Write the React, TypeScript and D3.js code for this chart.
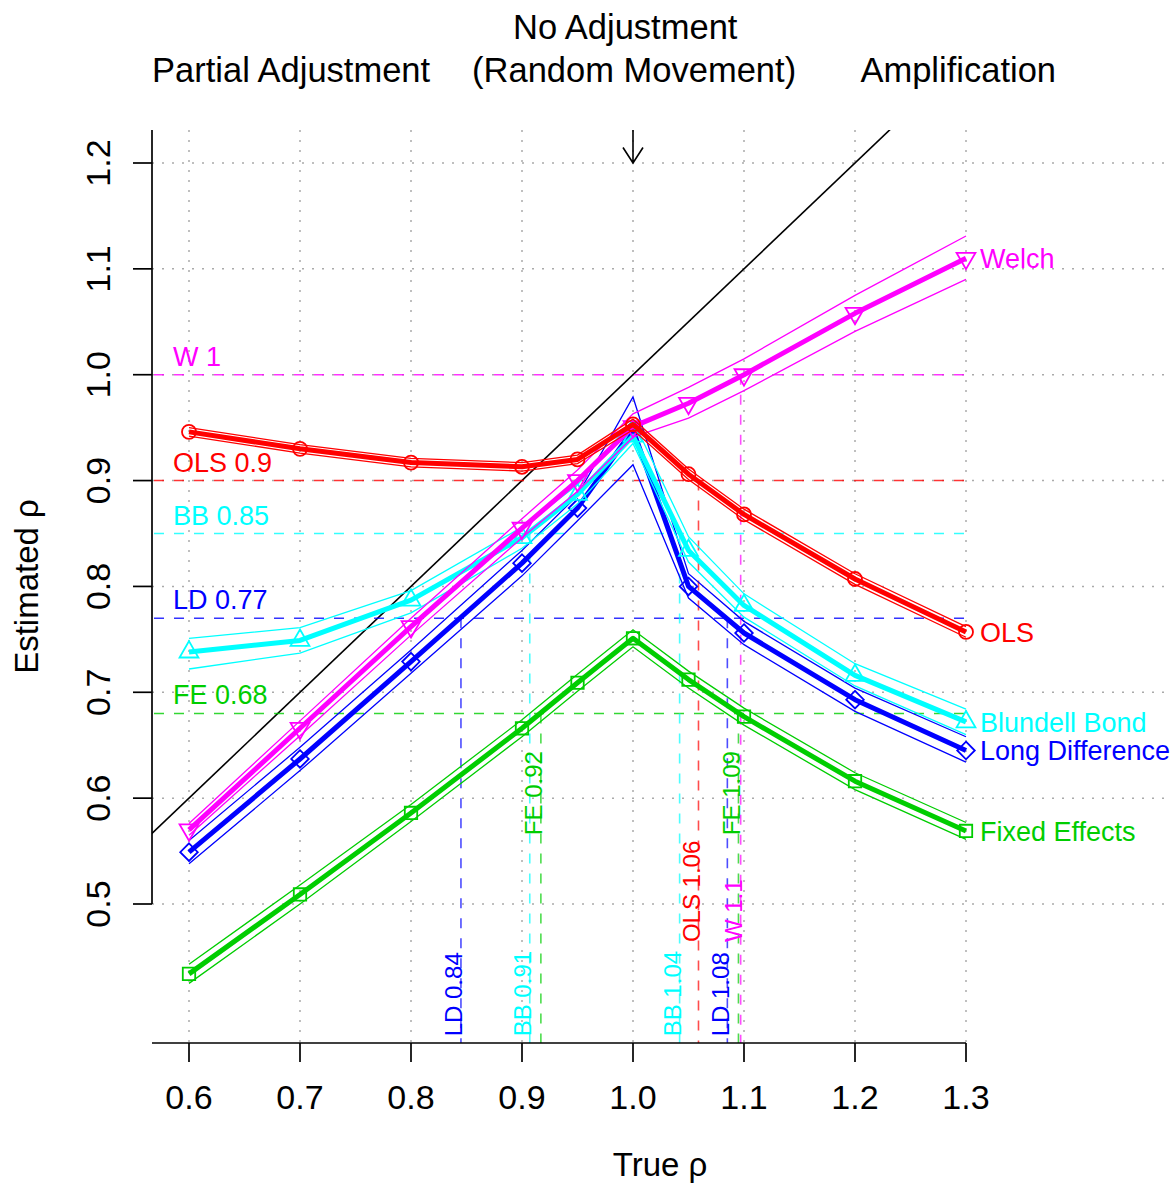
import React, { useEffect, useRef } from "react";
import * as d3 from "d3";

// true rho values used in the simulation
const trueRho = [0.6, 0.7, 0.8, 0.9, 0.95, 1.0, 1.05, 1.1, 1.2, 1.3];

// mean estimates and the two thin band lines
const olsEst = [0.946, 0.93, 0.917, 0.913, 0.92, 0.953, 0.906, 0.868, 0.807, 0.757];
const olsLo = [0.942, 0.926, 0.913, 0.909, 0.916, 0.948, 0.901, 0.863, 0.802, 0.752];
const olsHi = [0.95, 0.934, 0.921, 0.917, 0.924, 0.958, 0.911, 0.873, 0.812, 0.762];

const welchEst = [0.57, 0.666, 0.762, 0.855, 0.9, 0.951, 0.973, 1.0, 1.058, 1.11];
const welchLo = [0.565, 0.659, 0.754, 0.846, 0.89, 0.941, 0.959, 0.985, 1.041, 1.09];
const welchHi = [0.576, 0.673, 0.77, 0.864, 0.91, 0.963, 0.988, 1.015, 1.075, 1.131];

const bbEst = [0.738, 0.749, 0.787, 0.846, 0.887, 0.942, 0.834, 0.782, 0.716, 0.672];
const bbLo = [0.722, 0.737, 0.775, 0.836, 0.878, 0.935, 0.823, 0.771, 0.706, 0.66];
const bbHi = [0.751, 0.761, 0.796, 0.856, 0.896, 0.957, 0.847, 0.793, 0.727, 0.684];

const ldEst = [0.549, 0.637, 0.729, 0.822, 0.874, 0.948, 0.8, 0.756, 0.693, 0.645];
const ldLo = [0.538, 0.626, 0.718, 0.81, 0.862, 0.915, 0.789, 0.745, 0.682, 0.634];
const ldHi = [0.56, 0.648, 0.74, 0.834, 0.886, 0.979, 0.812, 0.767, 0.704, 0.658];

const feEst = [0.434, 0.509, 0.586, 0.666, 0.709, 0.751, 0.712, 0.677, 0.616, 0.569];
const feLo = [0.425, 0.5, 0.578, 0.658, 0.701, 0.743, 0.704, 0.669, 0.608, 0.561];
const feHi = [0.443, 0.518, 0.594, 0.674, 0.717, 0.759, 0.72, 0.685, 0.624, 0.577];

const xTicks = [0.6, 0.7, 0.8, 0.9, 1.0, 1.1, 1.2, 1.3];
const yTicks = [0.5, 0.6, 0.7, 0.8, 0.9, 1.0, 1.1, 1.2];

// horizontal reference levels
const hRefKeys = ["W", "OLS", "BB", "LD", "FE"];
const hRefLabels = ["W 1", "OLS 0.9", "BB 0.85", "LD 0.77", "FE 0.68"];
const hRefValues = [1.0, 0.9, 0.85, 0.77, 0.68];

// vertical reference crossings
const vRefKeys = ["LD", "BB", "FE", "BB", "OLS", "LD", "FE", "W"];
const vRefLabels = ["LD 0.84", "BB 0.91", "FE 0.92", "BB 1.04", "OLS 1.06", "LD 1.08", "FE 1.09", "W 1.1"];
const vRefValues = [0.845, 0.907, 0.917, 1.042, 1.059, 1.085, 1.095, 1.097];
const vRefFrom = [0.77, 0.85, 0.68, 0.85, 0.9, 0.77, 0.68, 1.0];
const vRefLabelY = [0.375, 0.375, 0.565, 0.375, 0.464, 0.375, 0.565, 0.464];

const colors: Record<string, string> = {
  OLS: "#ff0000",
  W: "#ff00ff",
  BB: "#00ffff",
  LD: "#0000ff",
  FE: "#00cd00",
};

const FONT = "'Liberation Sans', Arial, Helvetica, sans-serif";

const App = () => {
  const svgRef = useRef<SVGSVGElement>(null);
  const width = 1170;
  const height = 1184;

  useEffect(() => {
    document.body.style.margin = "0";
    const svg = d3.select(svgRef.current);
    svg.selectAll("*").remove();

    const plot = { left: 152, right: 1168, top: 130, bottom: 1043 };

    const x = d3.scaleLinear().domain([0.6, 1.3]).range([189, 966]);
    const y = d3.scaleLinear().domain([0.5, 1.2]).range([904, 163]);

    svg.append("defs").append("clipPath").attr("id", "plotClip")
      .append("rect")
      .attr("x", plot.left).attr("y", plot.top)
      .attr("width", plot.right - plot.left).attr("height", plot.bottom - plot.top);

    // Grid
    const grid = svg.append("g")
      .attr("stroke", "#aaaaaa")
      .attr("stroke-width", 1.5)
      .attr("stroke-dasharray", "2 8");
    xTicks.forEach(t => {
      grid.append("line")
        .attr("x1", x(t)).attr("x2", x(t))
        .attr("y1", plot.top).attr("y2", plot.bottom);
    });
    yTicks.forEach(t => {
      grid.append("line")
        .attr("x1", plot.left).attr("x2", plot.right)
        .attr("y1", y(t)).attr("y2", y(t));
    });

    // 45 degree line
    svg.append("line")
      .attr("clip-path", "url(#plotClip)")
      .attr("x1", x(0.5)).attr("y1", y(0.5))
      .attr("x2", x(1.4)).attr("y2", y(1.4))
      .attr("stroke", "#000").attr("stroke-width", 1.6);

    // Horizontal reference lines
    hRefKeys.forEach((k, i) => {
      svg.append("line")
        .attr("x1", plot.left + 2).attr("x2", x(1.3))
        .attr("y1", y(hRefValues[i])).attr("y2", y(hRefValues[i]))
        .attr("stroke", colors[k]).attr("stroke-width", 1.6)
        .attr("stroke-opacity", 0.8)
        .attr("stroke-dasharray", "10 10");
      svg.append("text")
        .attr("x", 173).attr("y", y(hRefValues[i]) - 9)
        .attr("fill", colors[k])
        .style("font-family", FONT).style("font-size", "27px")
        .text(hRefLabels[i]);
    });

    // Vertical reference lines
    vRefKeys.forEach((k, i) => {
      const vx = x(vRefValues[i]);
      svg.append("line")
        .attr("x1", vx).attr("x2", vx)
        .attr("y1", y(vRefFrom[i])).attr("y2", plot.bottom)
        .attr("stroke", colors[k]).attr("stroke-width", 1.6)
        .attr("stroke-opacity", 0.7)
        .attr("stroke-dasharray", "10 10");
      const ly = y(vRefLabelY[i]);
      svg.append("text")
        .attr("transform", `translate(${vx + 1.5},${ly}) rotate(-90)`)
        .attr("fill", colors[k])
        .style("font-family", FONT).style("font-size", "24px")
        .text(vRefLabels[i]);
    });

    // Series
    const R0 = 7;
    const markerPath = (m: string, px: number, py: number) => {
      if (m === "circle") {
        return `M${px + R0},${py}A${R0},${R0} 0 1,1 ${px - R0},${py}A${R0},${R0} 0 1,1 ${px + R0},${py}Z`;
      }
      if (m === "up" || m === "down") {
        const r = 1.5551 * R0, yc = 0.7776 * R0, xc = 1.3468 * R0;
        const s = m === "up" ? 1 : -1;
        return `M${px},${py - s * r}L${px + xc},${py + s * yc}L${px - xc},${py + s * yc}Z`;
      }
      if (m === "square") {
        const h = 0.8862 * R0;
        return `M${px - h},${py - h}H${px + h}V${py + h}H${px - h}Z`;
      }
      const d = 1.2533 * R0;
      return `M${px},${py - d}L${px + d},${py}L${px},${py + d}L${px - d},${py}Z`;
    };

    const series = [
      { key: "FE", name: "Fixed Effects", est: feEst, lo: feLo, hi: feHi, marker: "square" },
      { key: "LD", name: "Long Difference", est: ldEst, lo: ldLo, hi: ldHi, marker: "diamond" },
      { key: "BB", name: "Blundell Bond", est: bbEst, lo: bbLo, hi: bbHi, marker: "up" },
      { key: "W", name: "Welch", est: welchEst, lo: welchLo, hi: welchHi, marker: "down" },
      { key: "OLS", name: "OLS", est: olsEst, lo: olsLo, hi: olsHi, marker: "circle" },
    ];

    const line = d3.line<number>()
      .x((_, i) => x(trueRho[i]))
      .y(d => y(d));

    series.forEach(s => {
      const g = svg.append("g");
      const c = colors[s.key];
      [s.lo, s.hi].forEach(b => {
        g.append("path").attr("d", line(b))
          .attr("fill", "none").attr("stroke", c).attr("stroke-width", 1.3);
      });
      g.append("path").attr("d", line(s.est))
        .attr("fill", "none").attr("stroke", c).attr("stroke-width", 5)
        .attr("stroke-linejoin", "round");
      s.est.forEach((v, i) => {
        g.append("path").attr("d", markerPath(s.marker, x(trueRho[i]), y(v)))
          .attr("fill", "none").attr("stroke", c).attr("stroke-width", 1.8);
      });
      const last = s.est.length - 1;
      g.append("text")
        .attr("x", x(trueRho[last]) + 14).attr("y", y(s.est[last]))
        .attr("dy", "0.36em")
        .attr("fill", c)
        .style("font-family", FONT).style("font-size", "27px")
        .text(s.name);
    });

    // Axes
    const axes = svg.append("g").attr("stroke", "#000").attr("stroke-width", 1.7);
    axes.append("line")
      .attr("x1", plot.left).attr("x2", x(1.3))
      .attr("y1", plot.bottom).attr("y2", plot.bottom);
    xTicks.forEach(t => {
      axes.append("line")
        .attr("x1", x(t)).attr("x2", x(t))
        .attr("y1", plot.bottom).attr("y2", plot.bottom + 19);
      svg.append("text")
        .attr("x", x(t)).attr("y", 1109)
        .attr("text-anchor", "middle")
        .style("font-family", FONT).style("font-size", "34px")
        .text(d3.format(".1f")(t));
    });
    axes.append("line")
      .attr("x1", plot.left).attr("x2", plot.left)
      .attr("y1", plot.top).attr("y2", y(0.5));
    yTicks.forEach(t => {
      axes.append("line")
        .attr("x1", plot.left - 19).attr("x2", plot.left)
        .attr("y1", y(t)).attr("y2", y(t));
      svg.append("text")
        .attr("transform", `translate(110,${y(t)}) rotate(-90)`)
        .attr("text-anchor", "middle")
        .style("font-family", FONT).style("font-size", "34px")
        .text(d3.format(".1f")(t));
    });

    // Axis titles
    svg.append("text")
      .attr("x", (plot.left + plot.right) / 2).attr("y", 1176)
      .attr("text-anchor", "middle")
      .style("font-family", FONT).style("font-size", "33px")
      .text("True ρ");
    svg.append("text")
      .attr("transform", `translate(38,${(plot.top + plot.bottom) / 2}) rotate(-90)`)
      .attr("text-anchor", "middle")
      .style("font-family", FONT).style("font-size", "33px")
      .text("Estimated ρ");

    // Regime labels at the top
    const top = [
      { t: "No Adjustment", v: 0.993, yy: 39 },
      { t: "Partial Adjustment", v: 0.692, yy: 82 },
      { t: "(Random Movement)", v: 1.001, yy: 82 },
      { t: "Amplification", v: 1.293, yy: 82 },
    ];
    top.forEach(d => {
      svg.append("text")
        .attr("x", x(d.v)).attr("y", d.yy)
        .attr("text-anchor", "middle")
        .style("font-family", FONT).style("font-size", "34.5px")
        .text(d.t);
    });

    // Arrow pointing at rho = 1
    const ax = x(1.0);
    const tip = y(1.2);
    svg.append("path")
      .attr("d", `M${ax},${plot.top}V${tip}M${ax - 10},${tip - 15.5}L${ax},${tip}L${ax + 10},${tip - 15.5}`)
      .attr("fill", "none").attr("stroke", "#000").attr("stroke-width", 1.6);
  }, []);

  return (
    <div style={{ width, height }}>
      <svg ref={svgRef} width={width} height={height} style={{ display: "block", background: "#fff" }}></svg>
    </div>
  );
};

export default App;
